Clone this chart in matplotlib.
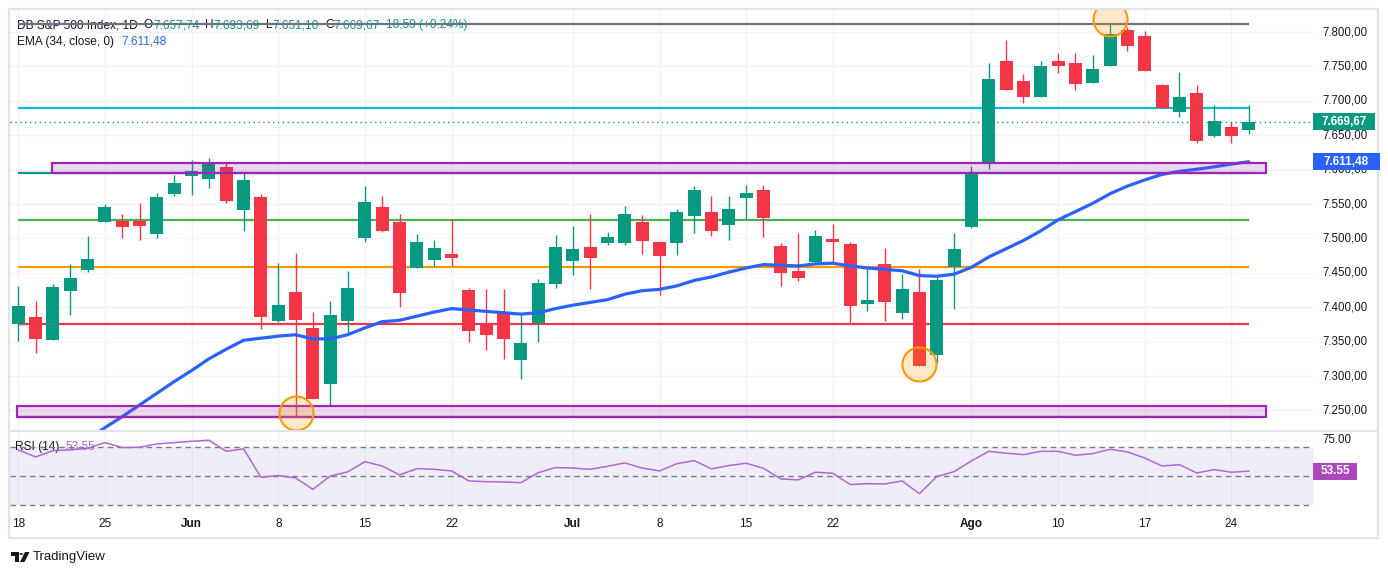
import matplotlib
matplotlib.use("Agg")
import matplotlib.pyplot as plt
from matplotlib.patches import Rectangle, Polygon, Circle
from matplotlib.transforms import blended_transform_factory as btf

# ---------------- data ----------------
opens = [7376, 7386, 7352, 7424, 7454, 7524, 7525, 7525, 7507, 7565,
         7591, 7587, 7604, 7542, 7560, 7380, 7422, 7370, 7289, 7380,
         7501, 7546, 7524, 7457, 7468, 7477, 7425, 7377, 7392, 7323,
         7377, 7434, 7467, 7488, 7493, 7493, 7524, 7495, 7493, 7533,
         7538, 7520, 7559, 7570, 7489, 7453, 7466, 7499, 7492, 7404,
         7463, 7392, 7422, 7330, 7458, 7517, 7609, 7758, 7729, 7705,
         7758, 7755, 7726, 7750, 7803, 7794, 7723, 7684, 7711, 7649,
         7662, 7657.74]
highs = [7431, 7409, 7434, 7463, 7504, 7550, 7535, 7551, 7566, 7592,
         7614, 7617, 7609, 7596, 7564, 7464, 7479, 7393, 7409, 7453,
         7576, 7562, 7535, 7506, 7498, 7528, 7428, 7426, 7426, 7392,
         7441, 7505, 7518, 7535, 7509, 7547, 7534, 7495, 7543, 7576,
         7562, 7562, 7578, 7578, 7493, 7508, 7512, 7521, 7495, 7457,
         7486, 7448, 7456, 7445, 7508, 7605, 7755, 7788, 7739, 7758,
         7770, 7770, 7767, 7813, 7807, 7802, 7725, 7742, 7723, 7694,
         7669, 7693.69]
lows = [7351, 7334, 7352, 7388, 7451, 7524, 7500, 7498, 7500, 7562,
        7563, 7574, 7551, 7511, 7369, 7379, 7241, 7267, 7258, 7362,
        7495, 7510, 7401, 7457, 7460, 7460, 7350, 7338, 7325, 7296,
        7350, 7428, 7447, 7426, 7490, 7490, 7477, 7418, 7476, 7508,
        7504, 7498, 7527, 7502, 7431, 7438, 7463, 7466, 7376, 7395,
        7380, 7383, 7314, 7319, 7398, 7515, 7601, 7715, 7697, 7705,
        7740, 7716, 7726, 7750, 7773, 7744, 7689, 7676, 7638, 7648,
        7638, 7651.10]
closes = [7402, 7354, 7429, 7442, 7470, 7546, 7516, 7518, 7560, 7580,
          7598, 7609, 7555, 7585, 7386, 7403, 7382, 7267, 7389, 7428,
          7553, 7511, 7420, 7495, 7486, 7472, 7365, 7360, 7354, 7348,
          7435, 7488, 7485, 7472, 7502, 7535, 7496, 7474, 7538, 7570,
          7511, 7543, 7566, 7530, 7450, 7442, 7504, 7495, 7402, 7410,
          7408, 7426, 7315, 7440, 7485, 7596, 7732, 7715, 7705, 7751,
          7750, 7724, 7746, 7797, 7780, 7744, 7689, 7706, 7641, 7671,
          7649, 7669.67]
ema34 = [None, None, None, None, 7208, 7225, 7241, 7258, 7275, 7292,
         7308, 7325, 7339, 7352, 7355, 7358, 7360, 7354, 7354, 7360,
         7370, 7379, 7381, 7387, 7393, 7398, 7396, 7394, 7392, 7390,
         7392, 7398, 7403, 7407, 7411, 7419, 7424, 7426, 7431, 7439,
         7444, 7451, 7457, 7462, 7461, 7460, 7463, 7464, 7460, 7457,
         7455, 7453, 7446, 7445, 7448, 7458, 7473, 7485, 7497, 7511,
         7527, 7539, 7551, 7565, 7576, 7585, 7593, 7597.5, 7600.5, 7604,
         7608, 7611.48]
rsi14 = [68.2, 63.3, 67.7, 68.2, 69.3, 73.2, 69.8, 70.0, 72.3, 73.2,
         74.1, 74.8, 67.2, 68.9, 49.3, 50.5, 48.9, 41.0, 50.2, 53.0,
         60.1, 57.1, 50.9, 55.3, 54.8, 53.7, 46.8, 46.3, 46.1, 45.6,
         52.5, 56.0, 55.7, 54.8, 56.9, 59.2, 55.7, 53.7, 58.7, 60.8,
         55.1, 57.4, 59.0, 55.5, 48.2, 47.5, 52.8, 52.1, 44.3, 44.9,
         44.7, 46.8, 38.0, 49.8, 53.2, 60.6, 67.2, 65.9, 64.9, 67.2,
         67.2, 64.5, 65.6, 68.6, 66.8, 62.6, 57.1, 58.0, 52.3, 54.6,
         52.8, 53.55]

date_tick_idx = [0, 5, 10, 15, 20, 25, 32, 37, 42, 47, 55, 60, 65, 70]
date_tick_lbl = ['18', '25', 'Jun', '8', '15', '22', 'Jul', '8', '15', '22',
                 'Ago', '10', '17', '24']
month_lbls = {'Jun', 'Jul', 'Ago'}
price_ticks = [7250, 7300, 7350, 7400, 7450, 7500, 7550, 7600, 7650, 7700,
               7750, 7800]

level_prices = [7811, 7689.5, 7595, 7527, 7459, 7376, 7241]
level_colors = ['#6f727c', '#00bcd4', '#089981', '#4caf50', '#ff9800',
                '#f23645', '#787b86']
zone_bottoms = [7595, 7241]
zone_tops = [7609.6, 7257]
zone_starts = [2, 0]
circle_idx = [16, 52, 63]
circle_prices = [7246, 7317, 7818.5]

last_close = 7669.67
last_ema = 7611.48
last_rsi = 53.55

UP, DN = '#089981', '#f23645'
TXT = '#131722'

# ---------------- figure ----------------
W, H = 1388, 575
fig = plt.figure(figsize=(W / 100, H / 100), dpi=100)
fig.patch.set_facecolor('white')
plt.rcParams['font.family'] = ['Liberation Sans', 'DejaVu Sans']


def fx(px):
    return px / W


def fy(py):
    return 1 - py / H


ax = fig.add_axes([fx(10), fy(431), fx(1313) - fx(10), fy(10) - fy(431)])
axr = fig.add_axes([fx(10), fy(512), fx(1313) - fx(10), fy(431) - fy(512)])
XL = (-0.48, 74.71)
for a in (ax, axr):
    a.set_xlim(*XL)
    for s in a.spines.values():
        s.set_visible(False)
    a.set_xticks([])
    a.set_yticks([])
    a.set_facecolor('none')
ax.set_ylim(7220.1, 7832)
axr.set_ylim(25.4, 81.2)

# grid
for p in price_ticks:
    ax.axhline(p, color='#f0f3fa', lw=1.0, zorder=0)
axr.axhline(75, color='#f0f3fa', lw=1.0, zorder=0)
for xi in date_tick_idx:
    ax.axvline(xi, color='#f0f3fa', lw=1.0, zorder=0)
    axr.axvline(xi, color='#f0f3fa', lw=1.0, zorder=0)

# horizontal levels (drawn under candles)
n = len(closes)
for lv, lc in zip(level_prices, level_colors):
    ax.hlines(lv, 0, n - 1, color=lc, lw=1.6, zorder=1)

# zones
for zb, zt, zs in zip(zone_bottoms, zone_tops, zone_starts):
    ax.add_patch(Rectangle((zs - 0.06, zb), 72.06 - zs, zt - zb,
                           facecolor=(0.612, 0.153, 0.690, 0.18),
                           edgecolor='#9c27b0', lw=1.6, zorder=5))

# last price dotted line
ax.axhline(last_close, color=UP, lw=1.0, ls=(0, (1, 2.5)), zorder=1)

# candles
xs = list(range(n))
cols = [UP if c >= o else DN for o, c in zip(opens, closes)]
ax.vlines(xs, lows, highs, colors=cols, lw=1.0, zorder=3)
bott = [min(o, c) for o, c in zip(opens, closes)]
hts = [max(abs(c - o), 1.6) for o, c in zip(opens, closes)]
ax.bar(xs, hts, bottom=bott, width=0.75, color=cols, zorder=3, linewidth=0)

# EMA
ex = [i for i, v in enumerate(ema34) if v is not None]
ey = [v for v in ema34 if v is not None]
ax.plot(ex, ey, color='#2962ff', lw=2.3, zorder=4, solid_capstyle='round')

# circles
ax.plot(circle_idx, circle_prices, 'o', ms=24.5, mfc=(1, 0.596, 0, 0.22),
        mec='#ff9800', mew=1.5, zorder=6, ls='none')

# RSI
axr.axhspan(30, 70, xmin=0, xmax=1, color=(0.494, 0.341, 0.761, 0.1), lw=0, zorder=0)
for lvl in (70, 50, 30):
    axr.axhline(lvl, color='#787b86', lw=1.0, ls=(0, (4, 3)), zorder=1)
axr.plot(xs, rsi14, color='#ab68d6', lw=1.1, zorder=3)

# ---------------- texts ----------------
renderer = fig.canvas.get_renderer()


def seq_text_ax(a, x0, y0, parts, size=8.6):
    x = x0
    for s, c, gap in parts:
        t = a.text(fx(x), fy(y0), s, color=c, fontsize=size, ha='left',
                   va='center', transform=fig.transFigure, zorder=0.5)
        bb = t.get_window_extent(renderer)
        x = x + bb.width + gap


seq_text_ax(ax, 17, 25, [
    ('DB S&P 500 Index, 1D', TXT, 6), ('O', TXT, 0), ('7.657,74', UP, 6),
    ('H', TXT, 0), ('7.693,69', UP, 6), ('L', TXT, 0), ('7.651,10', UP, 6),
    ('C', TXT, 0), ('7.669,67', UP, 6), ('18,59 (+0.24%)', UP, 0)])
seq_text_ax(ax, 17, 42, [('EMA (34, close, 0)', TXT, 7),
                         ('7.611,48', '#2962ff', 0)])
seq_text_ax(axr, 15, 447, [('RSI (14)', TXT, 6), ('53.55', '#ab68d6', 0)])

# right price scale


def fmt_price(v):
    s = f"{v:,.2f}"
    return s.replace(',', 'X').replace('.', ',').replace('X', '.')


tr_main = btf(fig.transFigure, ax.transData)
for p in price_ticks:
    ax.text(fx(1322), p, fmt_price(p), transform=tr_main, fontsize=8.3,
            color=TXT, ha='left', va='center', clip_on=False, zorder=2)
tr_rsi = btf(fig.transFigure, axr.transData)
axr.text(fx(1322), 75, '75.00', transform=tr_rsi, fontsize=8.3, color=TXT,
         ha='left', va='center', clip_on=False, zorder=2)


def value_box(a, val, text, color, x0, x1, h=17):
    yd = a.transData.transform((0, val))[1]
    fig.add_artist(Rectangle((x0, yd - h / 2), x1 - x0, h, transform=None,
                             facecolor=color, edgecolor='none', zorder=30))
    fig.text(fx((x0 + x1) / 2), yd / H, text, color='white', fontsize=8.5,
             ha='center', va='center', zorder=31, fontweight='bold')


value_box(ax, last_close, fmt_price(last_close), UP, 1313, 1375)
value_box(ax, last_ema, fmt_price(last_ema), '#2962ff', 1313, 1380)
value_box(axr, last_rsi, f"{last_rsi:.2f}", '#ab47bc', 1313, 1357)

# date labels
tr_x = btf(axr.transData, fig.transFigure)
for xi, lb in zip(date_tick_idx, date_tick_lbl):
    axr.text(xi, fy(524), lb, transform=tr_x, fontsize=8.5, color=TXT,
             ha='center', va='center', clip_on=False,
             fontweight='bold' if lb in month_lbls else 'normal')

# frame and pane separator
fc = '#e0e3eb'
fig.add_artist(Rectangle((fx(9), fy(538)), fx(1378) - fx(9), fy(9) - fy(538),
                         transform=fig.transFigure, facecolor='none',
                         edgecolor=fc, lw=1.6, zorder=20))
fig.add_artist(plt.Line2D([fx(9), fx(1378)], [fy(431), fy(431)],
                          transform=fig.transFigure, color=fc, lw=1.5, zorder=20))

# TradingView logo
logo_c = '#131722'
fig.add_artist(Polygon([(fx(10.5), fy(552)), (fx(18.5), fy(552)), (fx(18.5), fy(562)),
                        (fx(14.5), fy(562)), (fx(14.5), fy(555.5)), (fx(10.5), fy(555.5))],
                       closed=True, transform=fig.transFigure, facecolor=logo_c,
                       edgecolor='none'))
fig.add_artist(Circle((fx(21.3), fy(554)), 2.0 / W, transform=fig.transFigure,
                      facecolor=logo_c, edgecolor='none'))
fig.add_artist(Polygon([(fx(20), fy(562)), (fx(25), fy(552)), (fx(29.5), fy(552)),
                        (fx(24.5), fy(562))], closed=True, transform=fig.transFigure,
                       facecolor=logo_c, edgecolor='none'))
fig.text(fx(33), fy(557), 'TradingView', fontsize=9.5, color=logo_c,
         ha='left', va='center')

fig.savefig('out.png', dpi=100)
